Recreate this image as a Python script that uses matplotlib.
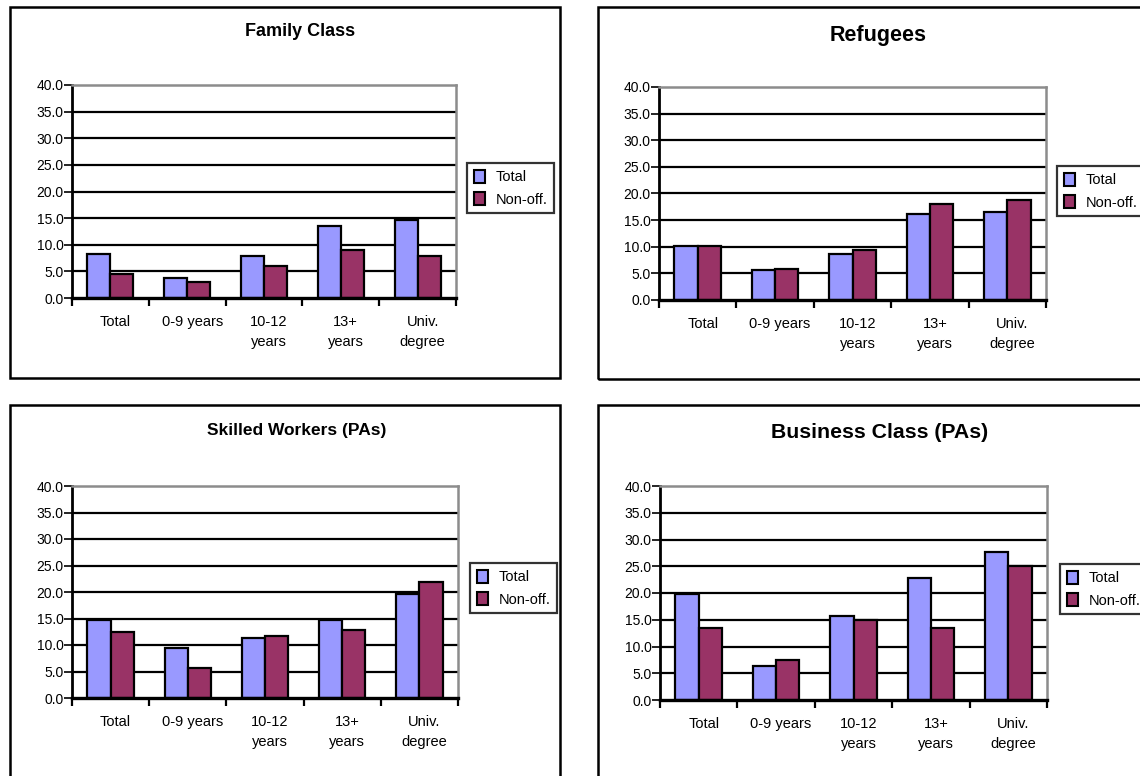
import matplotlib
matplotlib.use("Agg")
import matplotlib.pyplot as plt
from matplotlib.patches import Rectangle, Patch
from matplotlib.transforms import ScaledTranslation
import numpy as np

plt.rcParams['font.family'] = ['Liberation Sans', 'DejaVu Sans']

categories = ["Total", "0-9 years", "10-12\nyears", "13+\nyears", "Univ.\ndegree"]
series_names = ["Total", "Non-off."]

family_total = [8.3, 3.8, 7.9, 13.6, 14.7]
family_nonoff = [4.6, 3.0, 6.0, 9.0, 7.9]

refugees_total = [10.1, 5.6, 8.7, 16.1, 16.5]
refugees_nonoff = [10.1, 5.9, 9.3, 18.0, 18.8]

skilled_total = [14.7, 9.4, 11.3, 14.7, 19.6]
skilled_nonoff = [12.4, 5.6, 11.7, 12.8, 21.8]

business_total = [19.8, 6.3, 15.7, 22.8, 27.7]
business_nonoff = [13.4, 7.5, 14.9, 13.4, 25.0]

y_ticks = [0, 5, 10, 15, 20, 25, 30, 35, 40]

COL_TOTAL = "#9999FF"
COL_NONOFF = "#993366"

W, H = 1140, 776
fig = plt.figure(figsize=(W / 100, H / 100), dpi=100)
fig.patch.set_facecolor("white")


def fx(px):
    return px / W


def fy(py):
    return 1 - py / H


def panel_frame(x0, y0, x1, y1):
    r = Rectangle((fx(x0), fy(y1)), fx(x1) - fx(x0), fy(y0) - fy(y1),
                  transform=fig.transFigure, fill=False, edgecolor="black",
                  linewidth=1.8, zorder=0)
    fig.patches.append(r)


def draw_panel(box, title, title_xy, title_size, total, nonoff, legend_xy):
    left, top, right, bottom = box
    ax = fig.add_axes([fx(left), fy(bottom), fx(right) - fx(left), fy(top) - fy(bottom)])
    x = np.arange(len(categories)) + 0.5
    w = 0.3
    ax.bar(x - w / 2, total, width=w, color=COL_TOTAL, edgecolor="black",
           linewidth=1.6, zorder=3, label=series_names[0])
    ax.bar(x + w / 2, nonoff, width=w, color=COL_NONOFF, edgecolor="black",
           linewidth=1.6, zorder=3, label=series_names[1])
    ax.set_xlim(0, len(categories))
    ax.set_ylim(0, 40)
    ax.set_yticks(y_ticks)
    ax.set_yticklabels([f"{v:.1f}" for v in y_ticks], fontsize=10)
    for v in y_ticks[1:-1]:
        ax.axhline(v, color="black", linewidth=1.6, zorder=1)
    ax.set_xticks(np.arange(len(categories) + 1))
    ax.set_xticklabels([])
    ax.set_xticks(x, minor=True)
    ax.set_xticklabels(categories, minor=True, fontsize=10.5, linespacing=1.55)
    ax.tick_params(axis="x", which="major", direction="out", length=6, width=1.6, color="black")
    ax.tick_params(axis="x", which="minor", length=0, pad=12)
    ax.tick_params(axis="y", direction="out", length=6, width=1.2, pad=0)
    offset = ScaledTranslation(5 / 100, 0, fig.dpi_scale_trans)
    for lab in ax.get_xticklabels(minor=True):
        lab.set_transform(lab.get_transform() + offset)
    ax.spines["left"].set_linewidth(2.0)
    ax.spines["bottom"].set_linewidth(2.4)
    ax.spines["left"].set_color("black")
    ax.spines["bottom"].set_color("black")
    ax.spines["top"].set_color("#8c8c8c")
    ax.spines["right"].set_color("#8c8c8c")
    ax.spines["top"].set_linewidth(1.8)
    ax.spines["right"].set_linewidth(1.8)
    ax.spines["bottom"].set_zorder(4)
    fig.text(fx(title_xy[0]), fy(title_xy[1]), title, ha="center", va="center",
             fontsize=title_size, fontweight="bold")
    handles = [Patch(facecolor=COL_TOTAL, edgecolor="black", linewidth=1.5),
               Patch(facecolor=COL_NONOFF, edgecolor="black", linewidth=1.5)]
    leg = fig.legend(handles, series_names, loc="upper left",
                     bbox_to_anchor=(fx(legend_xy[0]), fy(legend_xy[1])),
                     fontsize=10.5, frameon=True, fancybox=False, shadow=False,
                     handlelength=0.8, handleheight=1.0, handletextpad=0.7,
                     labelspacing=0.55, borderpad=0.45, borderaxespad=0)
    leg.get_frame().set_edgecolor("black")
    leg.get_frame().set_linewidth(1.6)
    return ax


panel_frame(10, 7, 560, 378)
panel_frame(598, 7, 1150, 379)
panel_frame(10, 405, 560, 790)
panel_frame(598, 405, 1150, 790)

draw_panel((72, 85, 456, 298), "Family Class", (300, 32), 13,
           family_total, family_nonoff, (467, 163))
draw_panel((659, 87, 1046, 300), "Refugees", (878, 35), 15.5,
           refugees_total, refugees_nonoff, (1057, 166))
draw_panel((72, 486, 458, 698), "Skilled Workers (PAs)", (297, 431), 12.5,
           skilled_total, skilled_nonoff, (470, 563))
draw_panel((660, 486, 1047, 700), "Business Class (PAs)", (880, 433), 15.3,
           business_total, business_nonoff, (1060, 564))

fig.savefig("out.png", dpi=100)
